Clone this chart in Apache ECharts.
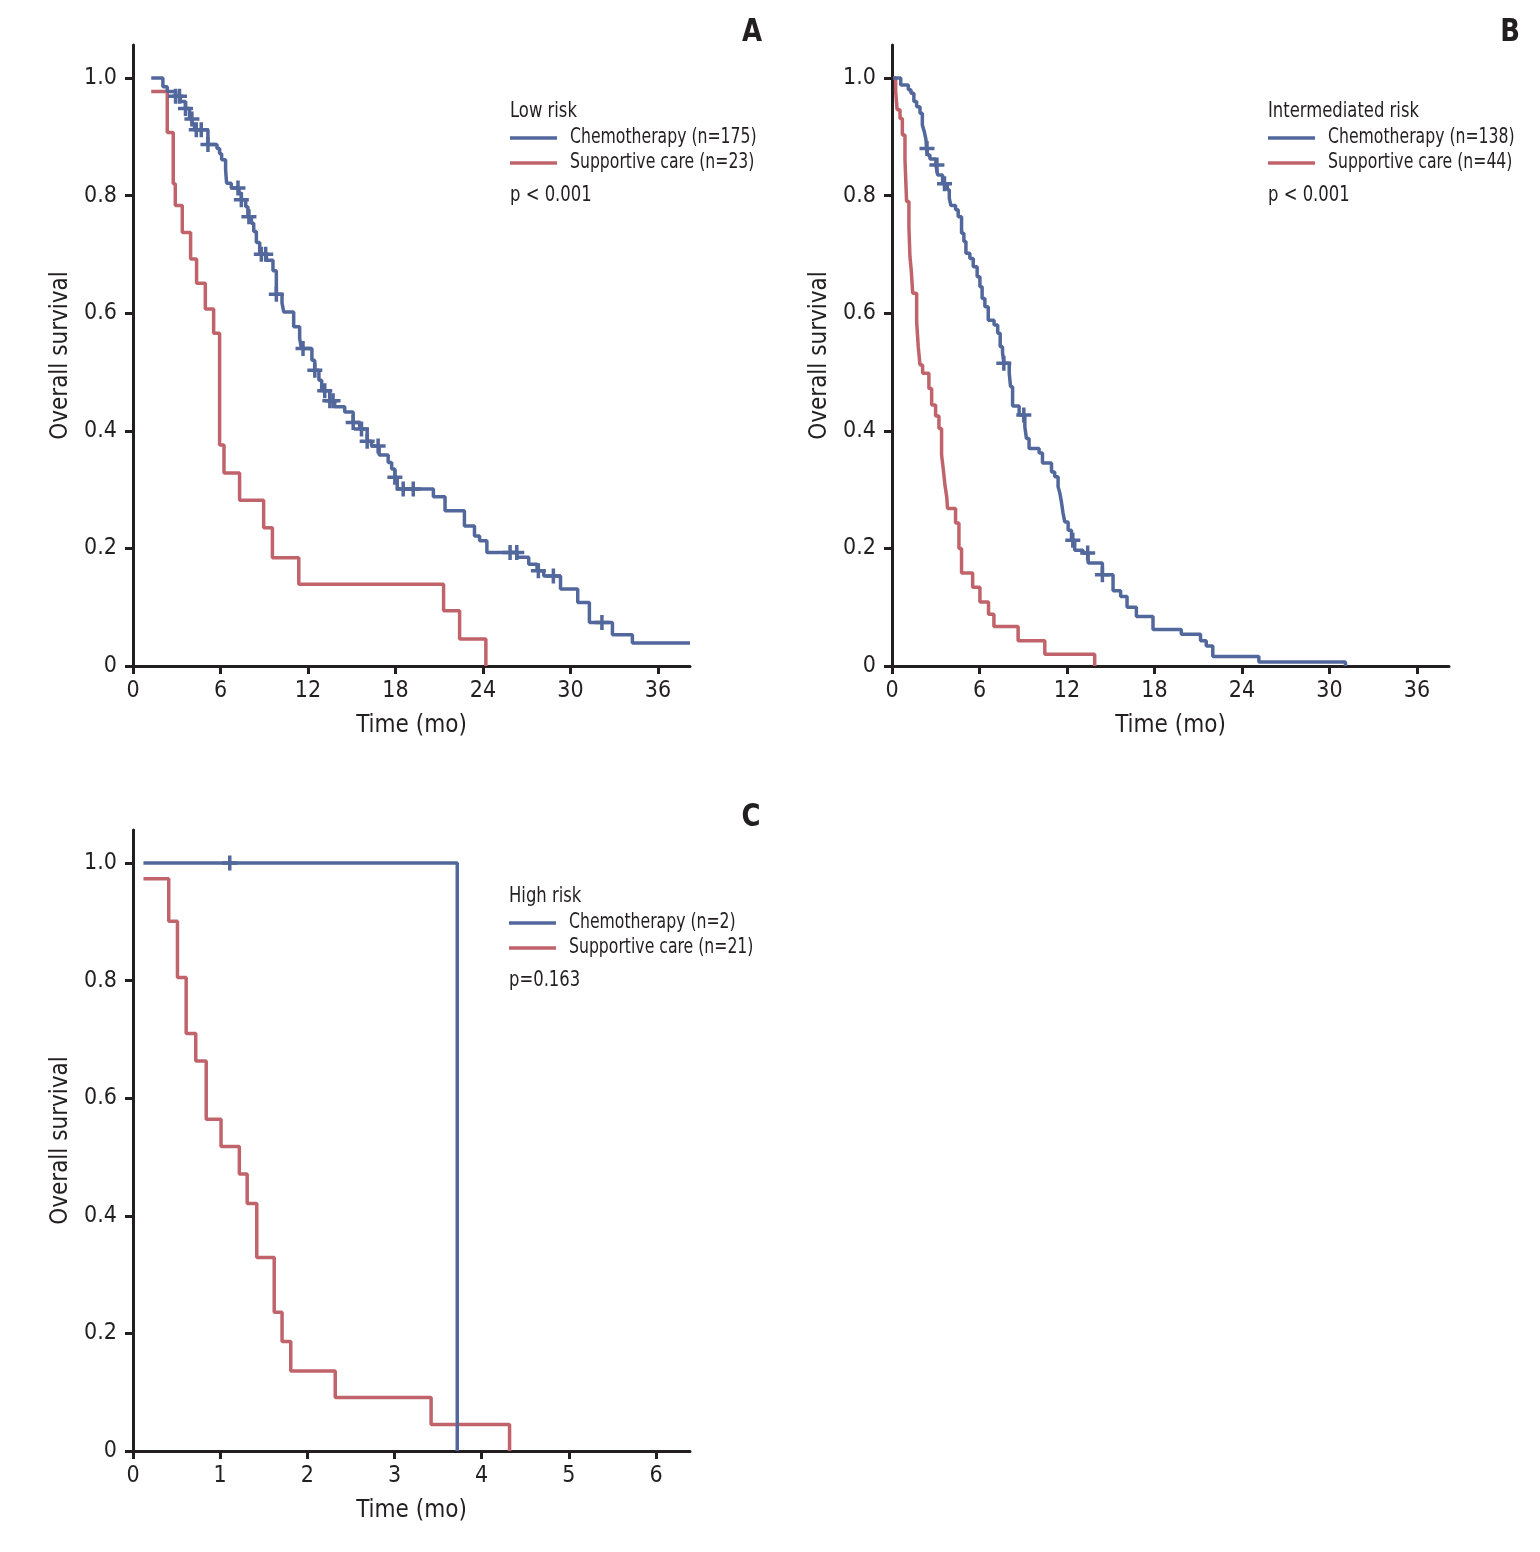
<!DOCTYPE html>
<html>
<head>
<meta charset="utf-8">
<script src="https://cdn.jsdelivr.net/npm/echarts@6/dist/echarts.min.js"></script>
<style>
html,body{margin:0;padding:0;background:#fff;}
#chart{width:1540px;height:1552px;}
</style>
</head>
<body>
<div id="chart"></div>
<script>
// ---------- DATA ----------
// Kaplan-Meier steps: [time (mo), survival after the step]
const chemoA = [[1.25,1.0],[2.05,0.985],[2.35,0.977],[2.92,0.969],[3.24,0.96],[3.6,0.948],[3.88,0.93],[4.06,0.922],[4.22,0.912],[5.14,0.887],[5.76,0.88],[5.94,0.871],[6.08,0.861],[6.35,0.844],[6.42,0.821],[6.74,0.813],[7.27,0.804],[7.43,0.793],[7.73,0.781],[7.88,0.764],[8.12,0.753],[8.28,0.739],[8.46,0.72],[8.69,0.70],[9.15,0.69],[9.6,0.672],[9.83,0.632],[10.22,0.617],[10.34,0.602],[11.02,0.577],[11.43,0.557],[11.55,0.54],[12.27,0.52],[12.46,0.503],[12.75,0.486],[12.94,0.468],[13.49,0.451],[13.83,0.441],[14.52,0.432],[15.1,0.414],[15.55,0.403],[16.06,0.382],[16.36,0.374],[16.88,0.359],[17.5,0.346],[17.74,0.335],[17.96,0.321],[18.12,0.301],[20.6,0.288],[21.4,0.264],[22.73,0.238],[23.42,0.221],[23.77,0.213],[24.27,0.193],[26.34,0.185],[27.14,0.173],[27.71,0.162],[28.17,0.153],[29.32,0.131],[30.5,0.108],[31.3,0.074],[32.88,0.053],[34.25,0.039],[38.2,0.039]];
const suppA = [[1.25,0.977],[2.35,0.907],[2.76,0.82],[2.9,0.783],[3.38,0.737],[3.95,0.692],[4.36,0.651],[4.96,0.607],[5.53,0.566],[5.94,0.376],[6.24,0.328],[7.31,0.282],[8.96,0.235],[9.56,0.184],[11.37,0.139],[21.3,0.094],[22.4,0.046],[24.2,0]];
const censorA = [2.92,3.19,3.6,4.04,4.34,4.68,5.14,7.2,7.43,7.95,8.8,9.1,9.83,11.66,12.47,13.15,13.5,13.72,15.1,15.67,16.06,16.81,17.96,18.53,19.22,25.86,26.32,27.8,28.83,32.16];

const chemoB = [[0.09,1.0],[0.6,0.988],[1.12,0.98],[1.3,0.974],[1.5,0.96],[1.69,0.951],[1.92,0.94],[2.08,0.92],[2.21,0.909],[2.33,0.895],[2.37,0.88],[2.45,0.869],[2.6,0.862],[3.01,0.852],[3.13,0.835],[3.47,0.82],[3.79,0.81],[3.93,0.795],[4.04,0.783],[4.36,0.776],[4.54,0.764],[4.77,0.736],[4.93,0.722],[5.07,0.702],[5.34,0.693],[5.57,0.679],[5.84,0.662],[6.03,0.645],[6.18,0.625],[6.37,0.611],[6.6,0.588],[7.0,0.58],[7.25,0.566],[7.42,0.543],[7.58,0.533],[7.67,0.515],[8.04,0.498],[8.13,0.475],[8.27,0.442],[8.72,0.427],[9.11,0.407],[9.22,0.387],[9.4,0.37],[10.09,0.362],[10.32,0.345],[10.94,0.33],[11.16,0.322],[11.39,0.305],[11.51,0.294],[11.62,0.279],[11.73,0.26],[11.85,0.245],[12.08,0.231],[12.31,0.214],[12.53,0.197],[13.1,0.192],[13.45,0.175],[14.43,0.155],[15.16,0.128],[15.68,0.118],[16.12,0.1],[16.76,0.084],[17.9,0.062],[19.84,0.054],[21.16,0.043],[21.55,0.034],[22.0,0.016],[25.16,0.007],[31.1,0.007],[31.1,0]];
const suppB = [[0.1,1.0],[0.25,0.977],[0.35,0.946],[0.55,0.931],[0.71,0.903],[0.89,0.861],[1.0,0.79],[1.16,0.747],[1.23,0.696],[1.32,0.673],[1.42,0.634],[1.69,0.586],[1.8,0.543],[1.92,0.512],[2.1,0.498],[2.53,0.472],[2.72,0.444],[2.99,0.425],[3.22,0.404],[3.4,0.359],[3.51,0.336],[3.63,0.308],[3.75,0.288],[3.81,0.268],[4.36,0.243],[4.59,0.2],[4.77,0.158],[5.53,0.134],[6.03,0.109],[6.62,0.088],[6.99,0.067],[8.65,0.043],[10.48,0.02],[13.9,0]];
const censorB = [2.4,3.08,3.6,7.67,9.04,12.4,13.42,14.43];

const chemoC = [[0.12,1.0],[3.72,0]];
const suppC = [[0.12,0.973],[0.41,0.901],[0.51,0.805],[0.61,0.71],[0.72,0.663],[0.84,0.564],[1.01,0.518],[1.22,0.471],[1.31,0.421],[1.42,0.329],[1.62,0.236],[1.71,0.186],[1.81,0.136],[2.32,0.091],[3.42,0.045],[4.32,0]];
const censorC = [1.11];

const monthTicks = [0,6,12,18,24,30,36];
const monthTicksC = [0,1,2,3,4,5,6];
const survTicks = [0,0.2,0.4,0.6,0.8,1.0];

const panels = [
  {letter:'A', risk:'Low risk', chemoName:'Chemotherapy (n=175)', suppName:'Supportive care (n=23)', p:'p < 0.001', chemo:chemoA, supp:suppA, censor:censorA, ticks:monthTicks, xmax:38.2},
  {letter:'B', risk:'Intermediated risk', chemoName:'Chemotherapy (n=138)', suppName:'Supportive care (n=44)', p:'p < 0.001', chemo:chemoB, supp:suppB, censor:censorB, ticks:monthTicks, xmax:38.2},
  {letter:'C', risk:'High risk', chemoName:'Chemotherapy (n=2)', suppName:'Supportive care (n=21)', p:'p=0.163', chemo:chemoC, supp:suppC, censor:censorC, ticks:monthTicksC, xmax:6.39}
];

// ---------- STYLE / LAYOUT ----------
const FONT = "'Liberation Sans Narrow','DejaVu Sans Condensed','Roboto Condensed','Liberation Sans',sans-serif";
const INK = '#231f20';
const BLUE = '#52679b';
const RED = '#c0636b';
const LW = 3.5;
const SX = 0.83; // horizontal squeeze for the condensed face of the original
const layout = [
  {left:133, top:45, legendX:510, letterX:752, letterY:33},
  {left:892, top:45, legendX:1268, letterX:1510, letterY:33},
  {left:133, top:830, legendX:509, letterX:751, letterY:818}
];
const GW = 557, GH = 621;
const PLUS = 'path://M0,5.75H5.75V0H9.25V5.75H15V9.25H9.25V15H5.75V9.25H0Z';

function survAt(curve, t){
  let s = curve[0][1];
  for (const [ti, si] of curve){ if (ti <= t) s = si; else break; }
  return s;
}
function txt(x, y, text, size, weight, align){
  return {type:'text', x:x, y:y, scaleX:SX, silent:true,
    style:{text:text, fill:INK, font:(weight||'normal')+' '+size+'px '+FONT, textAlign:align||'left', textVerticalAlign:'middle'}};
}

const grids=[], xAxes=[], yAxes=[], series=[], graphics=[];
panels.forEach((p,i)=>{
  const L = layout[i];
  grids.push({left:L.left, top:L.top, width:GW, height:GH, containLabel:false});
  xAxes.push({
    type:'value', gridIndex:i, min:0, max:p.xmax,
    name:'Time (mo)', nameLocation:'middle', nameGap:48,
    nameTextStyle:{fontFamily:FONT, fontSize:24, color:INK},
    axisLine:{lineStyle:{color:INK, width:3}},
    axisTick:{length:8, lineStyle:{color:INK, width:3}, customValues:p.ticks},
    axisLabel:{fontFamily:FONT, fontSize:23, color:INK, margin:14, customValues:p.ticks, formatter:v=>String(v)},
    splitLine:{show:false}
  });
  yAxes.push({
    type:'value', gridIndex:i, min:0, max:1.056,
    name:'Overall survival', nameLocation:'middle', nameGap:60,
    nameTextStyle:{fontFamily:FONT, fontSize:24, color:INK},
    axisLine:{lineStyle:{color:INK, width:3}},
    axisTick:{length:8, lineStyle:{color:INK, width:3}, customValues:survTicks},
    axisLabel:{fontFamily:FONT, fontSize:23, color:INK, margin:16, customValues:survTicks, formatter:v=>v===0?'0':v.toFixed(1)},
    splitLine:{show:false}
  });
  series.push({
    name:p.suppName, type:'line', xAxisIndex:i, yAxisIndex:i, step:'end', showSymbol:false,
    data:p.supp, lineStyle:{color:RED, width:LW}, itemStyle:{color:RED}, z:2, animation:false
  });
  series.push({
    name:p.chemoName, type:'line', xAxisIndex:i, yAxisIndex:i, step:'end', showSymbol:false,
    data:p.chemo, lineStyle:{color:BLUE, width:LW}, itemStyle:{color:BLUE}, z:3, animation:false
  });
  series.push({
    name:'censored '+p.letter, type:'scatter', xAxisIndex:i, yAxisIndex:i,
    symbol:PLUS, symbolSize:15, itemStyle:{color:BLUE, opacity:1}, z:4, animation:false,
    data:p.censor.map(t=>[t, survAt(p.chemo, t)])
  });
  // legend block: header, two keyed lines, p-value
  const lx = L.legendX, ty = L.top;
  graphics.push({type:'text', x:L.letterX, y:L.letterY, scaleX:0.9, silent:true,
    style:{text:p.letter, fill:INK, font:"bold 32px "+FONT, textAlign:'center', textVerticalAlign:'middle'}});
  graphics.push(txt(lx, ty+66, p.risk, 22));
  graphics.push({type:'line', silent:true, shape:{x1:lx, y1:ty+93, x2:lx+47, y2:ty+93}, style:{stroke:BLUE, lineWidth:LW}});
  graphics.push({type:'line', silent:true, shape:{x1:lx, y1:ty+118, x2:lx+47, y2:ty+118}, style:{stroke:RED, lineWidth:LW}});
  graphics.push(txt(lx+60, ty+93, p.chemoName, 21));
  graphics.push(txt(lx+60, ty+118, p.suppName, 21));
  graphics.push(txt(lx, ty+150, p.p, 22));
});

const chart = echarts.init(document.getElementById('chart'), null, {renderer:'canvas'});
chart.setOption({
  backgroundColor:'#ffffff',
  animation:false,
  grid:grids, xAxis:xAxes, yAxis:yAxes, series:series, graphic:graphics
});
</script>
</body>
</html>
